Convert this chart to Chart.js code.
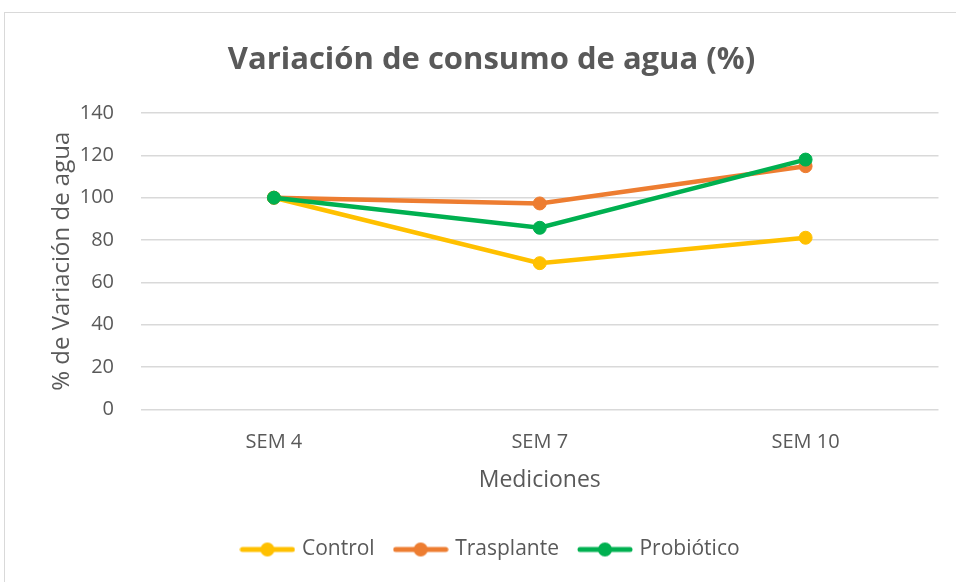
<!DOCTYPE html>
<html lang="es">
<head>
    <meta charset="UTF-8">
    <title>Variación de consumo de agua (%)</title>
    <style>
        body {
            margin: 0;
            padding: 0;
            background: #fff;
            overflow: hidden;
        }
        .frame {
            position: absolute;
            left: 4px;
            top: 12px;
            width: 1000px;
            height: 1000px;
            border: 1px solid #d9d9d9;
        }
        .chart-box {
            position: absolute;
            left: 37px;
            top: 0;
            width: 909px;
            height: 582px;
        }
    </style>
</head>
<body>
    <div class="frame"></div>
    <div class="chart-box">
        <canvas id="aguaChart" width="909" height="582"></canvas>
    </div>

    <script src="https://cdn.jsdelivr.net/npm/chart.js"></script>
    <script>
        // Datos
        const semanas = ['SEM 4', 'SEM 7', 'SEM 10'];
        const control = [100, 69.1, 81.1];
        const trasplante = [100, 97.3, 114.9];
        const probiotico = [100, 85.8, 118.0];

        const series = [
            { label: 'Control', data: control, color: '#FFC000', order: 3 },
            { label: 'Trasplante', data: trasplante, color: '#ED7D31', order: 2 },
            { label: 'Probiótico', data: probiotico, color: '#00B050', order: 1 }
        ];

        const textColor = '#595959';
        const gridColor = '#d9d9d9';
        const fontFamily = "'Open Sans', sans-serif";

        // marcador de leyenda: línea con punto
        function legendMarker(color) {
            const c = document.createElement('canvas');
            c.width = 56;
            c.height = 16;
            const ctx = c.getContext('2d');
            ctx.strokeStyle = color;
            ctx.lineWidth = 5;
            ctx.lineCap = 'round';
            ctx.beginPath();
            ctx.moveTo(3, 8);
            ctx.lineTo(53, 8);
            ctx.stroke();
            ctx.fillStyle = color;
            ctx.beginPath();
            ctx.arc(28, 8, 7, 0, Math.PI * 2);
            ctx.fill();
            return c;
        }

        const aguaChart = new Chart(document.getElementById('aguaChart'), {
            type: 'line',
            data: {
                labels: semanas,
                datasets: series.map(s => ({
                    label: s.label,
                    data: s.data,
                    order: s.order,
                    borderColor: s.color,
                    backgroundColor: s.color,
                    borderWidth: 4.5,
                    pointRadius: 6.5,
                    pointBorderWidth: 1,
                    pointBackgroundColor: s.color,
                    pointBorderColor: s.color,
                    fill: false,
                    tension: 0
                }))
            },
            options: {
                responsive: false,
                animation: false,
                layout: { padding: { top: 0, left: 0, right: 0, bottom: 12 } },
                plugins: {
                    title: {
                        display: true,
                        text: 'Variación de consumo de agua (%)',
                        color: textColor,
                        font: { family: fontFamily, size: 31, weight: 'bold' },
                        padding: { top: 41.4, bottom: 34.4 }
                    },
                    legend: {
                        position: 'bottom',
                        labels: {
                            color: textColor,
                            font: { family: fontFamily, size: 21 },
                            usePointStyle: true,
                            pointStyleWidth: 48,
                            padding: 22,
                            generateLabels: (chart) => chart.data.datasets.map((ds, i) => ({
                                text: ds.label,
                                fillStyle: ds.borderColor,
                                strokeStyle: ds.borderColor,
                                fontColor: textColor,
                                lineWidth: 0,
                                pointStyle: legendMarker(ds.borderColor),
                                hidden: !chart.isDatasetVisible(i),
                                datasetIndex: i
                            }))
                        }
                    },
                    tooltip: { enabled: false }
                },
                scales: {
                    x: {
                        offset: true,
                        grid: { display: false, drawTicks: false },
                        border: { display: false },
                        ticks: {
                            color: textColor,
                            font: { family: fontFamily, size: 20 },
                            padding: 21
                        },
                        title: {
                            display: true,
                            text: 'Mediciones',
                            color: textColor,
                            font: { family: fontFamily, size: 23 },
                            padding: { top: 0, bottom: 23 }
                        },
                        afterFit: (scale) => { scale.height = 107.5; }
                    },
                    y: {
                        min: 0,
                        max: 140,
                        grid: { color: gridColor, lineWidth: 1.5, drawTicks: false },
                        border: { display: false },
                        ticks: {
                            stepSize: 20,
                            color: textColor,
                            font: { family: fontFamily, size: 20 },
                            padding: 27
                        },
                        title: {
                            display: true,
                            text: '% de Variación de agua',
                            color: textColor,
                            font: { family: fontFamily, size: 24 },
                            padding: { top: 10.6, bottom: 0 }
                        },
                        afterFit: (scale) => { scale.width = 104; }
                    }
                }
            }
        });
    </script>
</body>
</html>
